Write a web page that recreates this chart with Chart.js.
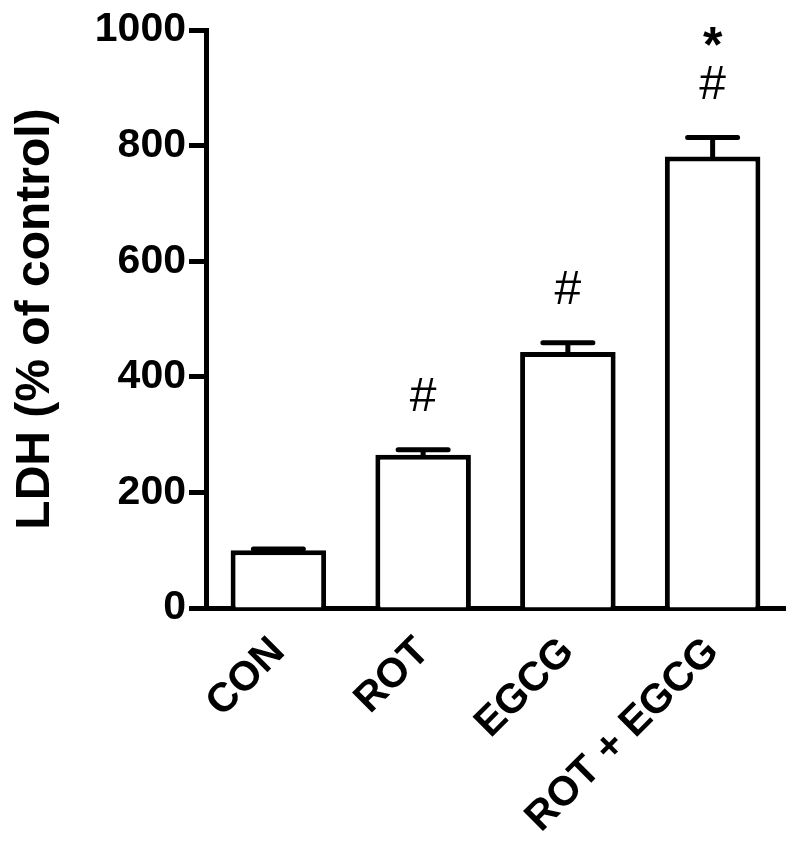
<!DOCTYPE html>
<html>
<head>
<meta charset="utf-8">
<script src="https://cdn.jsdelivr.net/npm/chart.js@4/dist/chart.umd.min.js"></script>
<style>
html,body{margin:0;padding:0;background:#fff;}
canvas{display:block;}
</style>
</head>
<body>
<canvas id="c" width="800" height="854"></canvas>
<script>
const categories = ["CON", "ROT", "EGCG", "ROT + EGCG"];
const ldhMean = [100, 265, 443, 781];
const ldhSem = [2, 9, 16, 33];
const marks = [[], ["#"], ["#"], ["#", "*"]];
const yTicks = [0, 200, 400, 600, 800, 1000];
const yTitle = "LDH (% of control)";

const FONT = "'Liberation Sans', Arial, Helvetica, sans-serif";

const errorBarPlugin = {
  id: 'errbars',
  afterDatasetsDraw(chart) {
    const meta = chart.getDatasetMeta(0);
    const ys = chart.scales.y;
    const ctx = chart.ctx;
    ctx.save();
    ctx.strokeStyle = '#000';
    ctx.lineWidth = 5;
    ctx.lineCap = 'round';
    meta.data.forEach((bar, i) => {
      const x = bar.x;
      const yTop = ys.getPixelForValue(ldhMean[i]);
      const yErr = ys.getPixelForValue(ldhMean[i] + ldhSem[i]);
      ctx.beginPath();
      ctx.moveTo(x, yTop);
      ctx.lineTo(x, yErr);
      ctx.moveTo(x - 25, yErr);
      ctx.lineTo(x + 25, yErr);
      ctx.stroke();
      ctx.fillStyle = '#000';
      ctx.textAlign = 'center';
      ctx.textBaseline = 'middle';
      marks[i].forEach((m, k) => {
        if (m === '#') {
          ctx.font = "normal 48px " + FONT;
          ctx.fillText(m, x, yErr - 52 - k * 45);
        } else {
          ctx.font = "bold 50px " + FONT;
          ctx.fillText(m, x, yErr - 52 - k * 45 + 8);
        }
      });
    });
    ctx.restore();
  }
};

new Chart(document.getElementById('c'), {
  type: 'bar',
  data: {
    labels: categories,
    datasets: [{
      data: ldhMean,
      backgroundColor: '#ffffff',
      borderColor: '#000000',
      borderWidth: 5,
      borderSkipped: 'bottom',
      barPercentage: 0.66,
      categoryPercentage: 1.0
    }]
  },
  options: {
    responsive: false,
    animation: false,
    devicePixelRatio: 1,
    layout: { padding: { top: 30, right: 15, left: 0, bottom: 0 } },
    plugins: { legend: { display: false }, tooltip: { enabled: false } },
    scales: {
      x: {
        grid: { display: false },
        border: { display: true, color: '#000', width: 5 },
        ticks: {
          color: '#000',
          font: { family: FONT, size: 41, weight: 'bold' },
          minRotation: 45,
          maxRotation: 45,
          autoSkip: false,
          padding: 12
        },
        afterFit(scale) { scale.height = 246; }
      },
      y: {
        min: 0,
        max: 1000,
        grid: { display: true, drawOnChartArea: false, drawTicks: true, tickLength: 17, tickWidth: 5, tickColor: '#000' },
        border: { display: true, color: '#000', width: 5 },
        afterBuildTicks(scale) { scale.ticks = yTicks.map(v => ({ value: v })); },
        ticks: {
          color: '#000',
          font: { family: FONT, size: 41, weight: 'bold' },
          padding: 3,
          callback: (v) => String(v)
        },
        title: {
          display: true,
          text: yTitle,
          color: '#000',
          font: { family: FONT, size: 48, weight: 'bold' },
          padding: { top: 7, bottom: 0 }
        },
        afterFit(scale) { scale.width = 206; }
      }
    }
  },
  plugins: [errorBarPlugin]
});
</script>
</body>
</html>
